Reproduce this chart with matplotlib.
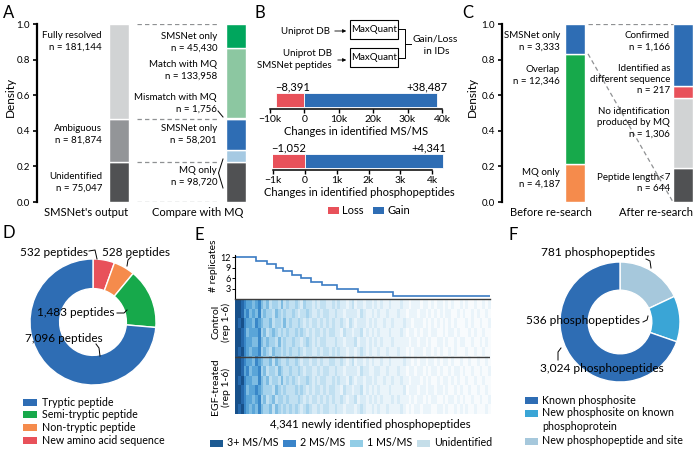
import matplotlib
matplotlib.use('Agg')
import matplotlib.pyplot as plt
import numpy as np
from matplotlib.patches import Rectangle, FancyArrowPatch
from matplotlib.lines import Line2D
from matplotlib.colors import LinearSegmentedColormap

plt.rcParams['font.family'] = ['Lato', 'DejaVu Sans']

# ---------------- data ----------------
# A: SMSNet output vs comparison with MaxQuant (bottom -> top)
sms_names = ['Unidentified', 'Ambiguous', 'Fully resolved']
sms_counts = [75047, 81874, 181144]
sms_colors = ['#505153', '#939598', '#d1d3d4']
cmp_names = ['MQ only (unidentified)', 'MQ only (ambiguous)', 'SMSNet only',
             'Mismatch with MQ', 'Match with MQ', 'SMSNet only']
cmp_counts = [75047, 23673, 58201, 1756, 133958, 45430]
cmp_colors = ['#505153', '#a5c9e2', '#2e6db4', '#e8515a', '#8cc7a1', '#00a65d']

# B: gain / loss in identifications
msms_change = [-8391, 38487]
phospho_change = [-1052, 4341]
msms_ticks = [-10000, 0, 10000, 20000, 30000, 40000]
phospho_ticks = [-1000, 0, 1000, 2000, 3000, 4000]
red, blue = '#e8515a', '#2e6db4'

# C: before / after re-search (bottom -> top)
before_names = ['MQ only', 'Overlap', 'SMSNet only']
before_counts = [4187, 12346, 3333]
before_colors = ['#f58b4c', '#17a94b', '#2e6db4']
after_names = ['Peptide length<7', 'No identification\nproduced by MQ',
               'Identified as\ndifferent sequence', 'Confirmed']
after_counts = [644, 1306, 217, 1166]
after_colors = ['#505153', '#d1d3d4', '#e8515a', '#2e6db4']

# D: peptide types (clockwise from top)
pep_names = ['New amino acid sequence', 'Non-tryptic peptide',
             'Semi-tryptic peptide', 'Tryptic peptide']
pep_counts = [532, 528, 1483, 7096]
pep_colors = ['#e8515a', '#f58b4c', '#17a94b', '#2e6db4']

# E: number of replicates per newly identified phosphopeptide
rep_levels = [12, 11, 10, 9, 8, 7, 6, 5, 4, 3, 2, 1]
rep_counts = [359, 188, 153, 120, 154, 154, 171, 188, 256, 359, 581, 1658]
ms_legend = ['3+ MS/MS', '2 MS/MS', '1 MS/MS', 'Unidentified']
ms_colors = ['#1c5a92', '#3a84c9', '#92cde6', '#c5dee9']
# coarse intensity map (0-9), 12 replicates x 90 bins
heat_rows = [
    "9987665675 4534435343 3432433232 3322323221 2312212212 1211211121 1011101101 0110101001 0100100101",
    "9986756574 5443543433 4323343223 2332232212 2221321121 2112111211 0111011010 1010110010 1001010010",
    "9897665765 4453443534 3343232332 3232322321 3212221212 1121121112 1101110101 0101010100 0101001001",
    "9987566674 5345434343 3434323233 2323322132 2122312121 2111211121 0110101101 1001011010 0010100100",
    "9987665575 4544353433 4332343232 3322232212 2231221212 1211121111 1011011010 0110100101 1001001010",
    "9897656674 5435443434 3343233223 2332323221 2212321211 2112111211 0101110110 1010010100 0100100100",
    "9987665765 4453543343 3432332332 3223322321 2312212121 1211211112 1101011011 0101101001 0010010010",
    "9986756674 5344354334 3343233223 2332232212 2221322112 2112111211 0110110101 1010010110 1001001001",
    "9897665575 4534435343 4323343232 3322323221 3212212212 1121121121 1011101010 0101101010 0100100100",
    "9987566765 4443543433 3434323233 2323322132 2122312121 2111211112 0111011011 0110100101 0010010010",
    "9987665674 5345344343 3343232332 3232322321 2231221212 1211121211 1010110101 1001011010 1001001001",
    "9897656575 4453543434 3432343223 2332232212 2212321121 2112111121 0101101110 0110100101 0100100010",
]

# F: phosphopeptide types (clockwise from top)
phos_names = ['New phosphopeptide and site', 'New phosphosite on known\nphosphoprotein',
              'Known phosphosite']
phos_counts = [781, 536, 3024]
phos_colors = ['#a6c8dc', '#3aa5d6', '#2e6db4']

# ---------------- helpers ----------------
W, H = 696, 449
fig = plt.figure(figsize=(W / 100, H / 100), dpi=100)


def add_ax(l, t, r, b):
    return fig.add_axes([l / W, 1 - b / H, (r - l) / W, (b - t) / H])


def ftext(x, y, s, **kw):
    kw.setdefault('fontsize', 7)
    kw.setdefault('va', 'center')
    return fig.text(x / W, 1 - y / H, s, **kw)


def fline(xs, ys, **kw):
    kw.setdefault('color', 'black')
    kw.setdefault('lw', 0.7)
    fig.add_artist(Line2D([x / W for x in xs], [1 - y / H for y in ys], **kw))


def frect(x, y, w, h, **kw):
    fig.add_artist(Rectangle((x / W, 1 - (y + h) / H), w / W, h / H, **kw))


def xlim_for(l, r, p0, p1):
    s = p1 - p0
    return (l - p0) / s, (r - p0) / s, s


def stack(ax, i, counts, colors, width):
    frac = np.array(counts) / sum(counts)
    bottoms = np.concatenate([[0], np.cumsum(frac)[:-1]])
    ax.bar([i] * len(frac), frac, bottom=bottoms, width=width, color=colors,
           edgecolor='white', linewidth=1)
    return np.cumsum(frac)


def density_axis(ax):
    ax.set_ylim(0, 1)
    for s in ['top', 'right', 'bottom']:
        ax.spines[s].set_visible(False)
    ax.spines['left'].set_linewidth(1.6)
    ax.set_xticks([])
    ax.set_yticks(np.arange(0, 1.01, 0.2))
    ax.set_yticklabels([f'{v:.1f}' for v in np.arange(0, 1.01, 0.2)])
    ax.tick_params(axis='y', length=3, width=1.2, labelsize=7, pad=2)
    ax.patch.set_alpha(0)


dash = dict(color='#8f9193', lw=0.9, dashes=(3.5, 2.5))

# ---------------- A ----------------
ftext(3, 13, 'A', fontsize=12)
axA = add_ax(37, 24, 252, 202)
x0, x1, sA = xlim_for(37, 252, 118.5, 236)
bwA = 20 / sA
cum_sms = stack(axA, 0, sms_counts, sms_colors, bwA)
stack(axA, 1, cmp_counts, cmp_colors, bwA)
axA.set_xlim(x0, x1)
density_axis(axA)
for yv in [0, cum_sms[0], cum_sms[1], 1.0]:
    axA.plot([bwA / 2 + 8 / sA, 1 - bwA / 2 - 7 / sA], [yv, yv], **dash)
ftext(10, 97, 'Density', fontsize=8.5, rotation=90, ha='center')

for name, cnt, y in zip(sms_names, sms_counts, [182, 134, 41.5]):
    ftext(102, y, f'{name}\nn = {cnt:,}', ha='right', linespacing=1.35)
right_lbl = [('SMSNet only', cmp_counts[5], 42), ('Match with MQ', cmp_counts[4], 70.5),
             ('Mismatch with MQ', cmp_counts[3], 103), ('SMSNet only', cmp_counts[2], 134),
             ('MQ only', cmp_counts[0] + cmp_counts[1], 176.5)]
for name, cnt, y in right_lbl:
    ftext(217, y, f'{name}\nn = {cnt:,}', ha='right', linespacing=1.35)
fline([218, 223], [111, 117])
fline([223, 218.5, 223], [159, 173, 188])
ftext(86, 212, "SMSNet's output", fontsize=8, ha='center')
ftext(198, 212, 'Compare with MQ', fontsize=8, ha='center')

# ---------------- B ----------------
ftext(254, 13, 'B', fontsize=12)
ftext(330, 31, 'Uniprot DB', ha='right')
ftext(332, 53, 'Uniprot DB', ha='right')
ftext(332, 66, 'SMSNet peptides', ha='right')
for ya, xs in [(31, 332), (60, 335)]:
    fig.add_artist(FancyArrowPatch(
        (xs / W, 1 - ya / H), (349 / W, 1 - ya / H), arrowstyle='-|>',
        mutation_scale=5, lw=0.6, color='black'))
for top in [20, 48]:
    frect(350, top, 48, 18.5, facecolor='white', edgecolor='black', lw=0.8)
    ftext(374, top + 9.5, 'MaxQuant', ha='center')
fline([398, 405, 405, 398], [29, 29, 57.5, 57.5])
fline([405, 411], [43.5, 43.5])
ftext(435, 45, 'Gain/Loss\n in IDs', ha='center', fontsize=7.4, linespacing=1.45)


def change_bar(ax, vals, ticks, xlim, xlabel, offs):
    ax.barh([0.44, 0.44], vals, height=0.68, color=[red, blue],
            edgecolor='white', linewidth=0.6)
    ax.set_xlim(*xlim)
    ax.set_ylim(0, 1)
    for s in ['top', 'right', 'left']:
        ax.spines[s].set_visible(False)
    ax.spines['bottom'].set_linewidth(1.1)
    ax.set_yticks([])
    ax.set_xticks(ticks)
    ax.set_xticklabels(['0' if v == 0 else f'{v / 1000:g}k'.replace('-', '\u2212') for v in ticks])
    ax.tick_params(axis='x', length=3, width=1.0, labelsize=7.5, pad=1.5)
    ax.set_xlabel(xlabel, fontsize=8, labelpad=1)
    ax.annotate(f'\u2212{abs(vals[0]):,}', xy=(vals[0], 0.78), xytext=(0, 0.5),
                textcoords='offset points', ha='left', va='bottom', fontsize=8,
                annotation_clip=False)
    ax.annotate(f'+{vals[1]:,}', xy=(vals[1], 0.78), xytext=(offs, 0.5),
                textcoords='offset points', ha='right', va='bottom', fontsize=8,
                annotation_clip=False)
    ax.patch.set_alpha(0)


axB1 = add_ax(270, 88, 442, 109)
change_bar(axB1, msms_change, msms_ticks, (-10000, 40000), 'Changes in identified MS/MS', 7.5)
axB2 = add_ax(273.25, 150, 444.7, 170)
change_bar(axB2, phospho_change, phospho_ticks, (-1000, 4400),
           'Changes in identified phosphopeptides', 2.5)
axB2.spines['bottom'].set_bounds(-1000, 4000)

for xs, c, lab in [(328, red, 'Loss'), (373, blue, 'Gain')]:
    frect(xs, 207, 11, 7, facecolor=c, edgecolor='none')
    ftext(xs + 14, 210.5, lab, fontsize=8)

# ---------------- C ----------------
ftext(462, 13, 'C', fontsize=12)
axC = add_ax(502, 24, 696, 202)
x0, x1, sC = xlim_for(502, 696, 575, 683)
bwC = 20 / sC
cum_b = stack(axC, 0, before_counts, before_colors, bwC)
stack(axC, 1, after_counts, after_colors, bwC)
axC.set_xlim(x0, x1)
density_axis(axC)
xa, xb = bwC / 2 + 3 / sC, 1 - bwC / 2
axC.plot([xa, xb], [1, 1], **dash)
axC.plot([xa, xb], [cum_b[1], 0], **dash)
ftext(472, 97, 'Density', fontsize=8.5, rotation=90, ha='center')
for name, cnt, y in zip(before_names, before_counts, [178, 75.5, 41.5]):
    ftext(560, y, f'{name}\nn = {cnt:,}', ha='right', linespacing=1.35)
for name, cnt, y in zip(after_names, after_counts, [183, 122.5, 79.5, 41.5]):
    ftext(670, y, f'{name}\nn = {cnt:,}', ha='right', linespacing=1.35)
ftext(551, 212, 'Before re-search', fontsize=8, ha='center')
ftext(656, 212, 'After re-search', fontsize=8, ha='center')


# ---------------- D ----------------
def donut(cx, cy, r, counts, colors):
    ax = add_ax(cx - r, cy - r, cx + r, cy + r)
    ax.pie(counts, colors=colors, startangle=90, counterclock=False, radius=1,
           wedgeprops=dict(width=0.47, edgecolor='white', linewidth=1))
    ax.set_xlim(-1, 1)
    ax.set_ylim(-1, 1)
    ax.axis('off')
    return ax


ftext(3, 233, 'D', fontsize=12)
donut(93, 322, 63, pep_counts, pep_colors)
ftext(54, 252, f'{pep_counts[0]:,} peptides', fontsize=8.5, ha='center')
fline([89, 95, 97], [251, 250, 259])
ftext(136, 252, f'{pep_counts[1]:,} peptides', fontsize=8.5, ha='center')
fline([131, 128, 127], [257, 260, 266])
ftext(76, 312, f'{pep_counts[2]:,} peptides', fontsize=8.5, ha='center')
fline([117, 124, 127], [313, 313, 310])
ftext(64, 339, f'{pep_counts[3]:,} peptides', fontsize=8.5, ha='center')
fline([96, 99, 100], [344, 348, 356])
for k, i in enumerate([3, 2, 1, 0]):
    y = 402 + k * 12.7
    frect(23, y - 3.5, 14, 7, facecolor=pep_colors[i], edgecolor='none')
    ftext(42, y, pep_names[i], fontsize=7.7)

# ---------------- E ----------------
ftext(194, 235, 'E', fontsize=12)
total = sum(rep_counts)
edges = np.concatenate([[0], np.cumsum(rep_counts)])
axS = add_ax(235, 252, 490, 299)
axS.stairs(rep_levels, edges, baseline=None, color='#3b7cc4', lw=1.2)
axS.set_xlim(0, total)
axS.set_ylim(0, 13.43)
for s in ['top', 'right', 'bottom']:
    axS.spines[s].set_visible(False)
axS.spines['left'].set_linewidth(0.8)
axS.spines['left'].set_bounds(0, 12.5)
axS.set_xticks([])
axS.set_yticks([3, 6, 9, 12])
axS.tick_params(axis='y', length=2, width=0.7, labelsize=6.5, pad=1)
axS.patch.set_alpha(0)

rows = [r.replace(' ', '') for r in heat_rows]
ncol = max(len(r) for r in rows)
heat = np.array([[int(c) for c in r.ljust(ncol, '0')] for r in rows])
cmap = LinearSegmentedColormap.from_list(
    'ms', ['#f8fbfd', '#eaf4fa', '#d8ebf6', '#c1e0f1', '#a5d2ec',
           '#7fbde3', '#5aa5d8', '#3a88c9', '#2669ac', '#17508a'])
axHm = add_ax(235, 299, 490, 414)
axHm.imshow(heat, aspect='auto', cmap=cmap, vmin=0, vmax=9, interpolation='nearest',
            extent=(0, total, 12, 0))
axHm.axis('off')
axHm.axhline(0, color='#3d3d3d', lw=1.0, clip_on=False)
axHm.axhline(6, color='#3d3d3d', lw=1.0)

ftext(214, 266, '# replicates', fontsize=7.5, rotation=90, ha='center')
ftext(221, 322, 'Control\n(rep 1-6)', fontsize=7.5, rotation=90, ha='center',
      linespacing=1.1)
ftext(221, 387, 'EGF-treated\n(rep 1-6)', fontsize=7.5, rotation=90, ha='center',
      linespacing=1.1)
ftext(370, 425, f'{total:,} newly identified phosphopeptides', fontsize=8.2, ha='center')
for xs, c, lab in zip([210, 283, 350, 417], ms_colors, ms_legend):
    frect(xs, 439.5, 13, 7, facecolor=c, edgecolor='none')
    ftext(xs + 17, 443, lab, fontsize=7.7)

# ---------------- F ----------------
ftext(509, 235, 'F', fontsize=12)
donut(620, 322, 60, phos_counts, phos_colors)
ftext(598, 253, f'{phos_counts[0]:,} phosphopeptides', fontsize=8.6, ha='center')
fline([646, 650, 651], [259, 261, 268])
ftext(583, 321, f'{phos_counts[1]:,} phosphopeptides', fontsize=8.6, ha='center')
fline([643, 647, 648], [322, 320, 316])
ftext(602, 368, f'{phos_counts[2]:,} phosphopeptides', fontsize=8.6, ha='center')
fline([558, 558, 561], [360, 352, 348])
for y, i in [(400, 2), (413, 1), (441, 0)]:
    frect(525, y - 3.5, 13, 7, facecolor=phos_colors[i], edgecolor='none')
ftext(542, 400, phos_names[2], fontsize=7.7)
ftext(542, 419.5, phos_names[1], fontsize=7.7, linespacing=1.25)
ftext(542, 441, phos_names[0], fontsize=7.7)

fig.savefig('out.png', dpi=100)
